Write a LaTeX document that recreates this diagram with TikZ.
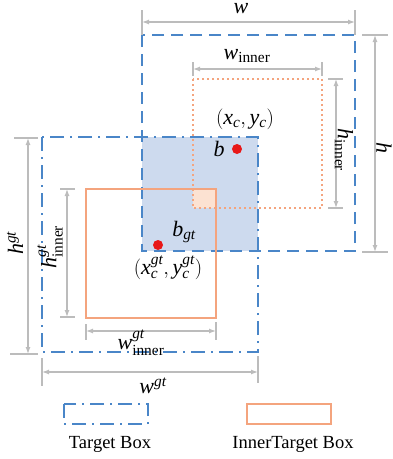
\documentclass[tikz,border=0pt]{standalone}
\usepackage{fontspec}
\setmainfont{Liberation Serif}
\usepackage{amsmath}
\usetikzlibrary{arrows.meta, positioning, calc}
\definecolor{BoxBlue}{RGB}{74,134,200}
\definecolor{FillBlue}{RGB}{205,218,238}
\definecolor{BoxOrange}{RGB}{244,164,126}
\definecolor{FillOrange}{RGB}{252,226,210}
\definecolor{DimGray}{RGB}{188,188,188}
\definecolor{DotRed}{RGB}{232,24,24}
\newcommand{\vi}[1]{\mathit{#1}}
\tikzset{
  every node/.style={font=\fontsize{18.5}{20}\selectfont, inner sep=1pt},
  every path/.style={line join=miter},
  >={Latex[length=7pt, width=5pt]},
  mathlabel/.style={font=\fontsize{22}{24}\selectfont, inner sep=0pt},
  predbox/.style={draw=BoxBlue, line width=2.4pt, dash pattern=on 12pt off 7pt},
  gtbox/.style={draw=BoxBlue, line width=2.4pt, dash pattern=on 14pt off 6pt on 2pt off 6pt},
  innerpred/.style={draw=BoxOrange, line width=2.2pt, dash pattern=on 2pt off 3pt},
  innergt/.style={draw=BoxOrange, line width=2pt},
  dimline/.style={draw=DimGray, line width=1.2pt},
  dimarrow/.style={dimline, <->},
  centerdot/.style={circle, fill=DotRed, minimum size=10pt, inner sep=0pt}
}
\begin{document}
\begin{tikzpicture}[x=1pt, y=-1pt]
    \useasboundingbox (0,0) rectangle (393,459);

    % boxes
    \coordinate (pred-nw) at (142,35);
    \coordinate (pred-se) at (355,251);
    \coordinate (gt-nw) at (42,137);
    \coordinate (gt-se) at (258,352);
    \coordinate (ipred-nw) at (193,79);
    \coordinate (ipred-se) at (322,208);
    \coordinate (igt-nw) at (86,189);
    \coordinate (igt-se) at (216,318);

    \fill [FillBlue] (pred-nw |- gt-nw) rectangle (gt-se |- pred-se);
    \fill [FillOrange] (ipred-nw |- igt-nw) rectangle (igt-se |- ipred-se);
    \draw [gtbox] (gt-nw) rectangle (gt-se);
    \draw [predbox] (pred-nw) rectangle (pred-se);
    \draw [innerpred] (ipred-nw) rectangle (ipred-se);
    \draw [innergt] (igt-nw) rectangle (igt-se);

    % centres
    \node [centerdot] (b) at (237,149) {};
    \node [centerdot] (bgt) at (158,245) {};
    \node [mathlabel, left=7pt of b] (blabel) {$\vi{b}$};
    \node [mathlabel] (bgtlabel) at (184,232) {$\vi{b}_{\vi{gt}}$};
    \node [mathlabel] (clabel) at (245,119) {$(\vi{x}_{\vi{c}}, \vi{y}_{\vi{c}})$};
    \node [mathlabel] (cgtlabel) at (168,268) {$(\vi{x}_{\vi{c}}^{\vi{gt}}, \vi{y}_{\vi{c}}^{\vi{gt}})$};

    % width w
    \coordinate (w-l) at (142,22);
    \coordinate (w-r) at (355,22);
    \draw [dimline] (142,10) -- (pred-nw);
    \draw [dimline] (355,10) -- (pred-se |- pred-nw);
    \draw [dimarrow] (w-l) -- (w-r);
    \node [mathlabel, anchor=north] (wlabel) at (241,3) {$\vi{w}$};

    % width w_inner
    \coordinate (wi-l) at (193,69);
    \coordinate (wi-r) at (322,69);
    \draw [dimline] (193,62) -- (193,76);
    \draw [dimline] (322,62) -- (322,76);
    \draw [dimarrow] (wi-l) -- (wi-r);
    \node [mathlabel] (wilabel) at (247,56) {$\vi{w}_{\mathrm{inner}}$};

    % height h
    \coordinate (h-t) at (375,35);
    \coordinate (h-b) at (375,252);
    \draw [dimline] (362,35) -- (388,35);
    \draw [dimline] (362,252) -- (388,252);
    \draw [dimarrow] (h-t) -- (h-b);
    \node [mathlabel, rotate=-90] (hlabel) at (384,148) {$\vi{h}$};

    % height h_inner
    \coordinate (hi-t) at (336,79);
    \coordinate (hi-b) at (336,208);
    \draw [dimline] (328,79) -- (343,79);
    \draw [dimline] (328,208) -- (343,208);
    \draw [dimarrow] (hi-t) -- (hi-b);
    \node [mathlabel, rotate=-90] (hilabel) at (344,150) {$\vi{h}_{\mathrm{inner}}$};

    % height h^gt
    \coordinate (hg-t) at (28,138);
    \coordinate (hg-b) at (28,354);
    \draw [dimline] (14,138) -- (38,138);
    \draw [dimline] (10,354) -- (38,354);
    \draw [dimarrow] (hg-t) -- (hg-b);
    \node [mathlabel, rotate=90] (hglabel) at (15,243) {$\vi{h}^{\vi{gt}}$};

    % height h^gt_inner
    \coordinate (hgi-t) at (67,189);
    \coordinate (hgi-b) at (67,317);
    \draw [dimline] (60,189) -- (75,189);
    \draw [dimline] (60,317) -- (75,317);
    \draw [dimarrow] (hgi-t) -- (hgi-b);
    \node [mathlabel, rotate=90] (hgilabel) at (50,247) {$\vi{h}^{\vi{gt}}_{\mathrm{inner}}$};

    % width w^gt_inner
    \coordinate (wgi-l) at (86,331);
    \coordinate (wgi-r) at (216,331);
    \draw [dimline] (86,324) -- (86,340);
    \draw [dimline] (216,322) -- (216,340);
    \draw [dimarrow] (wgi-l) -- (wgi-r);
    \node [mathlabel] (wgilabel) at (141,343) {$\vi{w}^{\vi{gt}}_{\mathrm{inner}}$};

    % width w^gt
    \coordinate (wg-l) at (42,372);
    \coordinate (wg-r) at (258,372);
    \draw [dimline] (42,358) -- (42,386);
    \draw [dimline] (258,356) -- (258,383);
    \draw [dimarrow] (wg-l) -- (wg-r);
    \node [mathlabel] (wglabel) at (153,386) {$\vi{w}^{\vi{gt}}$};

    % legend
    \draw [gtbox] (64,404) rectangle (148,424);
    \draw [innergt] (247,404) rectangle (331,424);
    \node (tlegend) at (110,444) {Target Box};
    \node (ilegend) at (293,444) {InnerTarget Box};
\end{tikzpicture}
\end{document}
